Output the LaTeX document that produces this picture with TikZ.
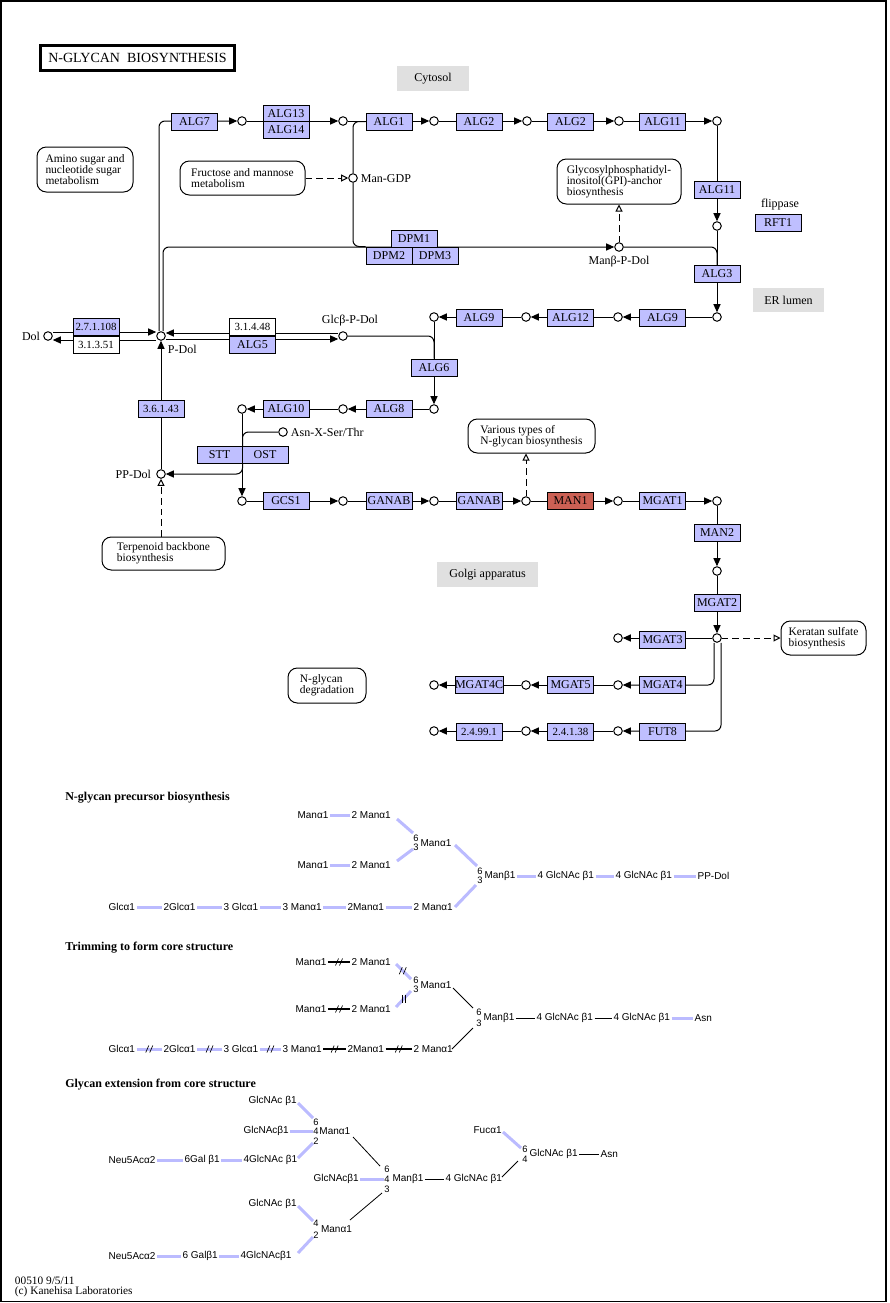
\documentclass[tikz,border=0pt]{standalone}
\usepackage{fontspec}
\setmainfont{Liberation Serif}
\newfontfamily\glyfont{Liberation Sans}
\usetikzlibrary{arrows.meta,backgrounds,calc}
\definecolor{genebl}{RGB}{191,191,255}
\definecolor{hitred}{RGB}{204,96,84}
\definecolor{cmpgray}{RGB}{224,224,224}
\definecolor{glyblue}{RGB}{187,187,255}
\newcommand\slashmk[1]{\draw[line width=0.5pt] ($(#1)+(-3.5,3.5)$) -- ($(#1)+(-0.5,-3.5)$) ($(#1)+(0.5,3.5)$) -- ($(#1)+(3.5,-3.5)$);}
\newcommand\vertmk[1]{\draw[line width=0.5pt] ($(#1)+(-1.5,-4)$) -- ($(#1)+(-1.5,4)$) ($(#1)+(1.5,-4)$) -- ($(#1)+(1.5,4)$);}
\newcommand\hatchlink[3]{\draw[#1] (#2.east) -- (#3.west); \coordinate (hm) at ($(#2.east)!0.5!(#3.west)$); \slashmk{hm}}
\begin{document}
\begin{tikzpicture}[x=0.75pt,y=-0.75pt,
 lbl/.style={font=\fontsize{9}{10}\selectfont, inner sep=0.5pt},
 gene/.style={draw, line width=0.75pt, fill=genebl, minimum width=34.5pt, minimum height=12.75pt, inner sep=0pt, font=\fontsize{9}{10}\selectfont},
 ecn/.style={font=\fontsize{8.2}{10}\selectfont},
 hit/.style={gene, fill=hitred},
 ecw/.style={gene, fill=white},
 cpd/.style={circle, draw, line width=0.75pt, fill=white, minimum size=6.4pt, inner sep=0pt},
 mapbox/.style={draw, line width=0.75pt, rounded corners=7pt, align=left, inner sep=0pt, font=\fontsize{8.6}{8.3}\selectfont},
 comp/.style={fill=cmpgray, inner sep=0pt, font=\fontsize{9}{10}\selectfont},
 ln/.style={line width=0.75pt},
 arr/.style={ln, -{Triangle[length=6pt,width=5.25pt]}},
 oarr/.style={ln, dash pattern=on 5pt off 3pt, -{Triangle[open,length=5.25pt,width=5.25pt]}},
 rc/.style={rounded corners=4.5pt},
 gt/.style={font=\glyfont\fontsize{7.5}{8}\selectfont, inner sep=1pt, anchor=west},
 gd/.style={font=\glyfont\fontsize{7}{7}\selectfont, inner sep=0pt},
 bl/.style={draw=glyblue, line width=2.25pt},
 bk/.style={draw=black, line width=1.5pt},
 tn/.style={draw=black, line width=0.6pt},
 hd/.style={font=\fontsize{9}{10}\selectfont\bfseries, anchor=west, inner sep=0pt}
]
\useasboundingbox (0,0) rectangle (889,1303);
\draw[line width=1.1pt] (1,1) rectangle (886,1301.5);

% title and compartments
\node[draw, line width=2.25pt, minimum width=145.5pt, minimum height=18.75pt, inner sep=0pt, font=\fontsize{10.5}{11}\selectfont] (title) at (137.5,58) {N-GLYCAN\ \ BIOSYNTHESIS};
\node[comp, minimum width=54pt, minimum height=18.75pt] (cytosol) at (433,78.5) {Cytosol};
\node[comp, minimum width=53.25pt, minimum height=18pt] (erl) at (788.5,300) {ER lumen};
\node[comp, minimum width=75.75pt, minimum height=18.75pt] (golgi) at (487.5,574.5) {Golgi apparatus};

% map boxes
\node[mapbox, minimum width=72pt, minimum height=33.75pt] (amino) at (85,169.5) {Amino sugar and\\nucleotide sugar\\metabolism};
\node[mapbox, minimum width=93.75pt, minimum height=25.5pt] (fructose) at (242.5,178) {Fructose and mannose\\metabolism};
\node[mapbox, minimum width=93pt, minimum height=33.75pt] (gpi) at (619,181.5) {Glycosylphosphatidyl-\\inositol(GPI)-anchor\\biosynthesis};
\node[mapbox, minimum width=95.25pt, minimum height=25.5pt] (various) at (531.5,436) {Various types of\\N-glycan biosynthesis};
\node[mapbox, minimum width=92.25pt, minimum height=24.75pt] (terpenoid) at (163.5,553.5) {Terpenoid backbone\\biosynthesis};
\node[mapbox, minimum width=63.75pt, minimum height=25.5pt] (keratan) at (823.5,638) {Keratan sulfate\\biosynthesis};
\node[mapbox, minimum width=58.5pt, minimum height=26.25pt] (degradation) at (327,685.5) {N-glycan\\degradation};

% compounds
\node[cpd] (a1) at (242,121) {};
\node[cpd] (a2) at (343,121) {};
\node[cpd] (a3) at (434,121) {};
\node[cpd] (a4) at (527,121) {};
\node[cpd] (a5) at (619,121) {};
\node[cpd] (a6) at (717,121) {};
\node[cpd] (a7) at (717,226) {};
\node[cpd] (a8) at (717,317) {};
\node[cpd] (b1) at (618,317) {};
\node[cpd] (b2) at (526,317) {};
\node[cpd] (b3) at (434,317) {};
\node[cpd] (b4) at (434,409) {};
\node[cpd] (b5) at (343,409) {};
\node[cpd] (b6) at (242,409) {};
\node[cpd] (mangdp) at (353,178) {};
\node[cpd] (manpdol) at (619,247) {};
\node[cpd] (pdol) at (161,336) {};
\node[cpd] (dol) at (48,336) {};
\node[cpd] (glcpdol) at (343,336) {};
\node[cpd] (ppdol) at (161,474) {};
\node[cpd] (asn) at (283,432) {};
\node[cpd] (d1) at (242,501) {};
\node[cpd] (d2) at (343,501) {};
\node[cpd] (d3) at (434,501) {};
\node[cpd] (d4) at (526,501) {};
\node[cpd] (d5) at (618,501) {};
\node[cpd] (d6) at (717,501) {};
\node[cpd] (e1) at (717,571) {};
\node[cpd] (e2) at (717,638) {};
\node[cpd] (e3) at (618,638) {};
\node[cpd] (f1) at (618,685) {};
\node[cpd] (f2) at (526,685) {};
\node[cpd] (f3) at (434,685) {};
\node[cpd] (g1) at (618,731) {};
\node[cpd] (g2) at (526,731) {};
\node[cpd] (g3) at (434,731) {};

% compound labels
\node[lbl, anchor=west] (lmangdp) at (360,179) {Man-GDP};
\node[lbl] (lmanpdol) at (619,262) {Manβ-P-Dol};
\node[lbl] (lflip) at (780,205) {flippase};
\node[lbl, anchor=east] (ldol) at (41,336) {Dol};
\node[lbl, anchor=west] (lpdol) at (167,349) {P-Dol};
\node[lbl] (lglc) at (350,321) {Glcβ-P-Dol};
\node[lbl, anchor=west] (lasn) at (290,432) {Asn-X-Ser/Thr};
\node[lbl, anchor=east] (lppdol) at (152,474) {PP-Dol};

% gene boxes
\node[gene] (ALG7) at (194.5,121.5) {ALG7};
\node[gene, minimum height=12.375pt] (ALG13) at (286,113.25) {ALG13};
\node[gene, minimum height=12.375pt] (ALG14) at (286,129.75) {ALG14};
\node[gene] (ALG1) at (389,121.5) {ALG1};
\node[gene] (ALG2) at (479,121.5) {ALG2};
\node[gene] (ALG2b) at (570.5,121.5) {ALG2};
\node[gene] (ALG11) at (662.5,121.5) {ALG11};
\node[gene] (ALG11b) at (717,190) {ALG11};
\node[gene] (RFT1) at (778,222.5) {RFT1};
\node[gene] (ALG3) at (717,274) {ALG3};
\node[gene] (DPM1) at (414,238.5) {DPM1};
\node[gene] (DPM2) at (389,255.5) {DPM2};
\node[gene] (DPM3) at (435,255.5) {DPM3};
\node[gene] (ALG9) at (662.5,317.5) {ALG9};
\node[gene] (ALG12) at (570.5,317.5) {ALG12};
\node[gene] (ALG9b) at (479,317.5) {ALG9};
\node[gene] (ALG6) at (434,367.5) {ALG6};
\node[gene] (ALG8) at (389,409) {ALG8};
\node[gene] (ALG10) at (286,409) {ALG10};
\node[gene, ecn] (E27) at (96,327.25) {2.7.1.108};
\node[ecw, ecn] (E31351) at (96,344.75) {3.1.3.51};
\node[ecw, ecn] (E31448) at (252.5,327.25) {3.1.4.48};
\node[gene] (ALG5) at (252.5,344.75) {ALG5};
\node[gene, ecn] (E36143) at (161,409) {3.6.1.43};
\node[gene, minimum width=33.75pt] (STT) at (219.5,455) {STT};
\node[gene] (OST) at (265,455) {OST};
\node[gene] (GCS1) at (286,501) {GCS1};
\node[gene] (GANAB) at (389,501) {GANAB};
\node[gene] (GANAB2) at (479,501) {GANAB};
\node[hit] (MAN1) at (570.5,501) {MAN1};
\node[gene] (MGAT1) at (662.5,501) {MGAT1};
\node[gene] (MAN2) at (717,532.5) {MAN2};
\node[gene] (MGAT2) at (717,602.5) {MGAT2};
\node[gene] (MGAT3) at (662.5,639.5) {MGAT3};
\node[gene] (MGAT4) at (662.5,684.5) {MGAT4};
\node[gene] (MGAT5) at (570.5,684.5) {MGAT5};
\node[gene] (MGAT4C) at (479,684.5) {MGAT4C};
\node[gene] (FUT8) at (662.5,731.5) {FUT8};
\node[gene, ecn] (E24138) at (570.5,731.5) {2.4.1.38};
\node[gene, ecn] (E24991) at (479,731.5) {2.4.99.1};

% connectors
\begin{scope}[on background layer]
\draw[arr,rc] ([xshift=-1.5pt]pdol.north) |- (a1);
\draw[arr] (a1) -- (a2);
\draw[arr] (a2) -- (a3);
\draw[arr] (a3) -- (a4);
\draw[arr] (a4) -- (a5);
\draw[arr] (a5) -- (a6);
\draw[arr] (a6) -- (a7);
\draw[arr] (a7) -- (a8);
\draw[ln,rc] (mangdp) |- (ALG1.west);
\draw[ln,rc] (mangdp) |- (DPM2.north west);
\draw[arr,rc] ([xshift=1.5pt]pdol.north) |- (manpdol);
\draw[ln,rc] (manpdol) -| (ALG3.north);
\draw[oarr] (fructose) -- (mangdp);
\draw[oarr] (manpdol) -- (gpi);
\draw[arr] (a8) -- (b1);
\draw[arr] (b1) -- (b2);
\draw[arr] (b2) -- (b3);
\draw[arr] (b3) -- (b4);
\draw[arr] (b4) -- (b5);
\draw[arr] (b5) -- (b6);
\draw[arr] (b6) -- (d1);
\draw[ln,rc] (glcpdol) -| (ALG6.north);
\draw[ln,rc] (asn) -| (STT.north east);
\draw[arr,rc] (STT.south east) |- (ppdol);
\draw[arr] (ppdol) -- (pdol);
\draw[oarr] (terpenoid.north -| ppdol) -- (ppdol);
\draw[arr] ([yshift=3pt]dol.east) -- ([yshift=3pt]pdol.west);
\draw[arr] ([yshift=-3pt]pdol.west) -- ([yshift=-3pt]dol.east);
\draw[arr] ([yshift=2.25pt]glcpdol.west) -- ([yshift=2.25pt]pdol.east);
\draw[arr] ([yshift=-2.25pt]pdol.east) -- ([yshift=-2.25pt]glcpdol.west);
\draw[arr] (d1) -- (d2);
\draw[arr] (d2) -- (d3);
\draw[arr] (d3) -- (d4);
\draw[arr] (d4) -- (d5);
\draw[arr] (d5) -- (d6);
\draw[arr] (d6) -- (e1);
\draw[arr] (e1) -- (e2);
\draw[arr] (e2) -- (e3);
\draw[oarr] (d4) -- (d4 |- various.south);
\draw[oarr] (e2) -- (keratan);
\draw[arr,rc] ([xshift=-2.25pt]e2.south) |- (f1);
\draw[arr] (f1) -- (f2);
\draw[arr] (f2) -- (f3);
\draw[arr,rc] ([xshift=3pt]e2.south) |- (g1);
\draw[arr] (g1) -- (g2);
\draw[arr] (g2) -- (g3);
\end{scope}

% ---------- Section 1
\node[hd] (h1) at (65,798) {N-glycan precursor biosynthesis};
\node[gt] (s1a) at (296,815) {Manα1};
\node[gt] (s1b) at (350,815) {2 Manα1};
\node[gt] (s1c) at (296,865) {Manα1};
\node[gt] (s1d) at (350,865) {2 Manα1};
\node[gd] (s1e6) at (416,838) {6};
\node[gd] (s1e3) at (416,847) {3};
\node[gt] (s1e) at (419,843) {Manα1};
\node[gt] (s1f) at (107,907) {Glcα1};
\node[gt] (s1g) at (162,907) {2Glcα1};
\node[gt] (s1h) at (222,907) {3 Glcα1};
\node[gt] (s1i) at (281,907) {3 Manα1};
\node[gt] (s1j) at (346,907) {2Manα1};
\node[gt] (s1k) at (412,907) {2 Manα1};
\node[gd] (s1l6) at (480,871) {6};
\node[gd] (s1l3) at (480,880) {3};
\node[gt] (s1l) at (483,876) {Manβ1};
\node[gt] (s1m) at (536,876) {4 GlcNAc β1};
\node[gt] (s1n) at (614,876) {4 GlcNAc β1};
\node[gt] (s1o) at (696,876) {PP-Dol};
\draw[bl] (s1a.east) -- (s1b.west);
\draw[bl] (s1c.east) -- (s1d.west);
\draw[bl] (s1f.east) -- (s1g.west);
\draw[bl] (s1g.east) -- (s1h.west);
\draw[bl] (s1h.east) -- (s1i.west);
\draw[bl] (s1i.east) -- (s1j.west);
\draw[bl] (s1j.east) -- (s1k.west);
\draw[bl] (s1l.east) -- (s1m.west);
\draw[bl] (s1m.east) -- (s1n.west);
\draw[bl] (s1n.east) -- (s1o.west);
\draw[bl] (397,819) coordinate (p11) -- (413,833) coordinate (p12);
\draw[bl] (397,861) coordinate (p13) -- (413,849) coordinate (p14);
\draw[bl] (455,845) coordinate (p15) -- (477,866) coordinate (p16);
\draw[bl] (455,907) coordinate (p17) -- (476,885) coordinate (p18);

% ---------- Section 2
\node[hd] (h2) at (65,948) {Trimming to form core structure};
\node[gt] (s2a) at (294,962) {Manα1};
\node[gt] (s2b) at (350,962) {2 Manα1};
\node[gt] (s2c) at (294,1009) {Manα1};
\node[gt] (s2d) at (350,1009) {2 Manα1};
\node[gd] (s2e6) at (416,980) {6};
\node[gd] (s2e3) at (416,989) {3};
\node[gt] (s2e) at (419,985) {Manα1};
\node[gt] (s2f) at (107,1049) {Glcα1};
\node[gt] (s2g) at (162,1049) {2Glcα1};
\node[gt] (s2h) at (222,1049) {3 Glcα1};
\node[gt] (s2i) at (281,1049) {3 Manα1};
\node[gt] (s2j) at (346,1049) {2Manα1};
\node[gt] (s2k) at (412,1049) {2 Manα1};
\node[gd] (s2l6) at (479,1012) {6};
\node[gd] (s2l3) at (479,1023) {3};
\node[gt] (s2l) at (482,1018) {Manβ1};
\node[gt] (s2m) at (535,1018) {4 GlcNAc β1};
\node[gt] (s2n) at (612,1018) {4 GlcNAc β1};
\node[gt] (s2o) at (693,1018) {Asn};
\hatchlink{bk}{s2a}{s2b}
\hatchlink{bk}{s2c}{s2d}
\hatchlink{bl}{s2f}{s2g}
\hatchlink{bl}{s2g}{s2h}
\hatchlink{bl}{s2h}{s2i}
\hatchlink{bk}{s2i}{s2j}
\hatchlink{bk}{s2j}{s2k}
\draw[tn] (s2l.east) -- (s2m.west);
\draw[tn] (s2m.east) -- (s2n.west);
\draw[bl] (s2n.east) -- (s2o.west);
\draw[bl] (396,964) coordinate (p21) -- (411,979) coordinate (p22);
\slashmk{$(p21)!0.45!(p22)$}
\draw[bl] (396,1007) coordinate (p23) -- (411,991) coordinate (p24);
\vertmk{$(p23)!0.5!(p24)$}
\draw[tn] (453,988) coordinate (p25) -- (473,1008) coordinate (p26);
\draw[tn] (452,1049) coordinate (p27) -- (473,1028) coordinate (p28);

% ---------- Section 3
\node[hd] (h3) at (65,1085) {Glycan extension from core structure};
\node[gt] (s3a) at (247,1101) {GlcNAc β1};
\node[gt] (s3b) at (242,1131) {GlcNAcβ1};
\node[gt] (s3c) at (107,1160) {Neu5Acα2};
\node[gt] (s3d) at (183,1160) {6Gal β1};
\node[gt] (s3f) at (242,1160) {4GlcNAc β1};
\node[gd] (s3e6) at (316,1122) {6};
\node[gd] (s3e4) at (316,1131) {4};
\node[gd] (s3e2) at (316,1141) {2};
\node[gt, inner sep=0.5pt] (s3e) at (318.5,1131) {Manα1};
\draw[bl] (s3b.east) -- (s3e4.west);
\draw[bl] (s3c.east) -- (s3d.west);
\draw[bl] (s3d.east) -- (s3f.west);
\draw[bl] (298,1103) coordinate (p31) -- (313,1118) coordinate (p32);
\draw[bl] (298,1158) coordinate (p33) -- (313,1143) coordinate (p34);
\draw[tn] (353,1137) coordinate (p35) -- (380,1166) coordinate (p36);
\node[gd] (s3h6) at (387,1169) {6};
\node[gd] (s3h4) at (387,1179) {4};
\node[gd] (s3h3) at (387,1189) {3};
\node[gt] (s3g) at (312,1179) {GlcNAcβ1};
\node[gt] (s3h) at (391,1179) {Manβ1};
\node[gt] (s3i) at (444,1179) {4 GlcNAc β1};
\draw[bl] (s3g.east) -- (s3h4.west);
\draw[tn] (s3h.east) -- (s3i.west);
\node[gt] (s3j) at (247,1204) {GlcNAc β1};
\draw[bl] (298,1206) coordinate (p37) -- (313,1221) coordinate (p38);
\node[gd] (s3k4) at (316,1223) {4};
\node[gd] (s3k2) at (316,1235) {2};
\node[gt] (s3k) at (319.5,1229) {Manα1};
\draw[tn] (350,1220) coordinate (p39) -- (382,1193) coordinate (p40);
\node[gt] (s3l) at (107,1256) {Neu5Acα2};
\node[gt] (s3m) at (181,1256) {6 Galβ1};
\node[gt] (s3n) at (239,1256) {4GlcNAcβ1};
\draw[bl] (s3l.east) -- (s3m.west);
\draw[bl] (s3m.east) -- (s3n.west);
\draw[bl] (298,1253) coordinate (p41) -- (313,1237) coordinate (p42);
\node[gt] (s3o) at (472,1130) {Fucα1};
\draw[bl] (503,1132) coordinate (p43) -- (521,1148) coordinate (p44);
\node[gd] (s3p6) at (525,1149) {6};
\node[gd] (s3p4) at (525,1159) {4};
\node[gt] (s3p) at (528,1154) {GlcNAc β1};
\node[gt] (s3q) at (599,1154) {Asn};
\draw[tn] (s3p.east) -- (s3q.west);
\draw[tn] (502,1177) coordinate (p45) -- (518,1161) coordinate (p46);

% footer
\node[lbl, anchor=west, font=\fontsize{8.5}{9}\selectfont] (ft1) at (14,1281) {00510 9/5/11};
\node[lbl, anchor=west, font=\fontsize{8.5}{9}\selectfont] (ft2) at (14,1292) {(c) Kanehisa Laboratories};
\end{tikzpicture}
\end{document}
